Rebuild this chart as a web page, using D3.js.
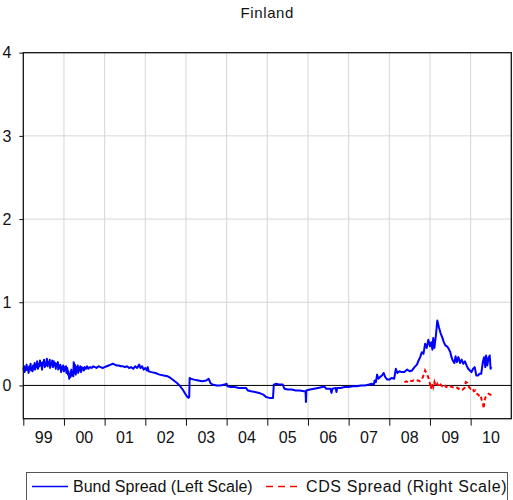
<!DOCTYPE html>
<html>
<head>
<meta charset="utf-8">
<script src="https://cdn.jsdelivr.net/npm/d3@7.9.0/dist/d3.min.js"></script>
<style>
  body { margin: 0; background: #fff; }
  text { font-family: "Liberation Sans", Arial, sans-serif; fill: #111; }
</style>
</head>
<body>
<div id="chart"></div>
<script>
// year labels, placed between year ticks
const yearLabels = ["99", "00", "01", "02", "03", "04", "05", "06", "07", "08", "09", "10"];
const yTicks = [0, 1, 2, 3, 4];

// Bund spread, left scale  [decimal year, value]
const bund = [
  [1999.00, 0.19], [1999.02, 0.23], [1999.03, 0.16], [1999.05, 0.21], [1999.06, 0.18],
  [1999.08, 0.25], [1999.10, 0.19], [1999.11, 0.22], [1999.13, 0.15], [1999.15, 0.23],
  [1999.16, 0.20], [1999.18, 0.26], [1999.19, 0.18], [1999.21, 0.21], [1999.23, 0.17],
  [1999.24, 0.24], [1999.26, 0.20], [1999.28, 0.27], [1999.29, 0.19], [1999.31, 0.25],
  [1999.33, 0.22], [1999.34, 0.29], [1999.36, 0.20], [1999.38, 0.26], [1999.40, 0.23],
  [1999.41, 0.30], [1999.43, 0.24], [1999.45, 0.27], [1999.46, 0.19], [1999.48, 0.28],
  [1999.50, 0.25], [1999.51, 0.31], [1999.53, 0.22], [1999.55, 0.27], [1999.56, 0.24],
  [1999.58, 0.32], [1999.60, 0.23], [1999.61, 0.28], [1999.63, 0.26], [1999.65, 0.31],
  [1999.66, 0.21], [1999.68, 0.27], [1999.70, 0.25], [1999.71, 0.30], [1999.73, 0.22],
  [1999.75, 0.29], [1999.76, 0.24], [1999.78, 0.27], [1999.80, 0.20], [1999.81, 0.26],
  [1999.83, 0.23], [1999.85, 0.28], [1999.86, 0.19], [1999.88, 0.24], [1999.90, 0.21],
  [1999.91, 0.25], [1999.93, 0.16], [1999.95, 0.22], [1999.96, 0.19], [1999.98, 0.24],
  [2000.00, 0.17], [2000.02, 0.22], [2000.03, 0.19], [2000.05, 0.23], [2000.06, 0.15],
  [2000.08, 0.21], [2000.10, 0.13], [2000.11, 0.17], [2000.13, 0.08], [2000.15, 0.14],
  [2000.16, 0.10], [2000.18, 0.19], [2000.19, 0.12], [2000.21, 0.16], [2000.23, 0.11],
  [2000.24, 0.28], [2000.26, 0.15], [2000.27, 0.25], [2000.29, 0.13], [2000.31, 0.22],
  [2000.32, 0.17], [2000.34, 0.24], [2000.35, 0.15], [2000.37, 0.21], [2000.39, 0.18],
  [2000.40, 0.23], [2000.42, 0.16], [2000.44, 0.22], [2000.45, 0.19], [2000.47, 0.21],
  [2000.49, 0.18], [2000.51, 0.22], [2000.54, 0.20], [2000.57, 0.23], [2000.60, 0.20],
  [2000.64, 0.22], [2000.68, 0.21], [2000.72, 0.23], [2000.76, 0.22], [2000.80, 0.21],
  [2000.85, 0.23], [2000.90, 0.22], [2000.95, 0.21],
  [2001.00, 0.22], [2001.05, 0.23], [2001.10, 0.24], [2001.15, 0.25], [2001.20, 0.26],
  [2001.25, 0.25], [2001.30, 0.24], [2001.35, 0.24], [2001.40, 0.23], [2001.45, 0.23],
  [2001.50, 0.22], [2001.55, 0.23], [2001.60, 0.21], [2001.65, 0.22], [2001.70, 0.20],
  [2001.75, 0.23], [2001.80, 0.21], [2001.85, 0.25], [2001.88, 0.21], [2001.92, 0.23],
  [2001.96, 0.19], [2002.00, 0.21], [2002.04, 0.18], [2002.06, 0.22], [2002.08, 0.17],
  [2002.15, 0.16], [2002.25, 0.15], [2002.35, 0.13], [2002.45, 0.12], [2002.55, 0.11],
  [2002.62, 0.09], [2002.70, 0.06], [2002.78, 0.03], [2002.86, -0.01], [2002.92, -0.05],
  [2002.97, -0.09], [2003.02, -0.13], [2003.06, -0.15], [2003.08, -0.14], [2003.09, 0.09],
  [2003.12, 0.08], [2003.20, 0.07], [2003.30, 0.06], [2003.40, 0.05], [2003.50, 0.06],
  [2003.56, 0.08], [2003.60, 0.03], [2003.65, 0.01], [2003.75, 0.00], [2003.85, 0.00],
  [2003.95, 0.01], [2004.00, 0.02], [2004.02, -0.01], [2004.10, -0.02], [2004.20, -0.02],
  [2004.30, -0.03], [2004.40, -0.03], [2004.48, -0.03], [2004.52, -0.06], [2004.60, -0.07],
  [2004.70, -0.08], [2004.80, -0.09], [2004.90, -0.11], [2004.97, -0.14], [2005.05, -0.15],
  [2005.14, -0.15], [2005.16, 0.01], [2005.22, 0.02], [2005.30, 0.01], [2005.38, 0.01],
  [2005.42, -0.04], [2005.50, -0.05], [2005.60, -0.05], [2005.70, -0.06], [2005.80, -0.06],
  [2005.90, -0.07], [2005.94, -0.07], [2005.95, -0.20], [2005.96, -0.06], [2006.05, -0.05],
  [2006.15, -0.04], [2006.25, -0.03], [2006.35, -0.02], [2006.40, -0.01], [2006.45, -0.04],
  [2006.55, -0.04], [2006.58, -0.09], [2006.60, -0.04], [2006.68, -0.03], [2006.70, -0.08],
  [2006.72, -0.03], [2006.80, -0.03], [2006.90, -0.02], [2007.00, -0.02], [2007.10, -0.01],
  [2007.20, -0.01], [2007.30, 0.00], [2007.40, 0.00], [2007.50, 0.01], [2007.56, 0.02],
  [2007.62, 0.01], [2007.64, 0.06], [2007.67, 0.04], [2007.70, 0.13], [2007.73, 0.08],
  [2007.77, 0.10], [2007.82, 0.12], [2007.86, 0.15], [2007.90, 0.10], [2007.95, 0.07],
  [2008.00, 0.07], [2008.06, 0.09], [2008.12, 0.08], [2008.16, 0.20], [2008.20, 0.15],
  [2008.25, 0.17], [2008.30, 0.16], [2008.37, 0.16], [2008.44, 0.19], [2008.50, 0.17],
  [2008.56, 0.18], [2008.62, 0.22], [2008.68, 0.25], [2008.72, 0.30], [2008.76, 0.34],
  [2008.80, 0.40], [2008.84, 0.38], [2008.88, 0.50], [2008.92, 0.45], [2008.96, 0.55],
  [2009.00, 0.47], [2009.03, 0.52], [2009.06, 0.43], [2009.08, 0.57], [2009.11, 0.45],
  [2009.15, 0.62], [2009.18, 0.78], [2009.22, 0.70], [2009.26, 0.63], [2009.30, 0.58],
  [2009.34, 0.52], [2009.38, 0.48], [2009.42, 0.47], [2009.46, 0.44], [2009.50, 0.40],
  [2009.53, 0.34], [2009.56, 0.30], [2009.60, 0.27], [2009.63, 0.35], [2009.66, 0.28],
  [2009.70, 0.34], [2009.74, 0.27], [2009.78, 0.31], [2009.82, 0.26], [2009.86, 0.29],
  [2009.90, 0.24], [2009.94, 0.20], [2009.98, 0.18], [2010.02, 0.16], [2010.06, 0.20],
  [2010.10, 0.22], [2010.14, 0.12], [2010.18, 0.12], [2010.22, 0.14], [2010.26, 0.14],
  [2010.30, 0.28], [2010.33, 0.34], [2010.36, 0.22], [2010.38, 0.36], [2010.41, 0.24],
  [2010.44, 0.33], [2010.47, 0.36], [2010.49, 0.20], [2010.51, 0.22]
];

// CDS spread, right scale  [decimal year, value]
const cds = [
  [2008.37, 0.04], [2008.42, 0.05], [2008.46, 0.04], [2008.50, 0.06], [2008.55, 0.05],
  [2008.60, 0.06], [2008.65, 0.05], [2008.70, 0.06], [2008.75, 0.05], [2008.80, 0.07],
  [2008.84, 0.12], [2008.88, 0.18], [2008.91, 0.15], [2008.94, 0.12], [2008.97, 0.08],
  [2009.00, 0.02], [2009.02, -0.04], [2009.05, 0.03], [2009.08, -0.02], [2009.11, 0.04],
  [2009.14, -0.01], [2009.18, 0.02], [2009.22, -0.02], [2009.26, 0.01], [2009.30, -0.01],
  [2009.35, 0.01], [2009.40, -0.02], [2009.45, 0.00], [2009.50, -0.01], [2009.55, -0.02],
  [2009.60, -0.03], [2009.65, -0.02], [2009.70, -0.04], [2009.75, -0.03], [2009.80, -0.05],
  [2009.85, -0.03], [2009.88, 0.04], [2009.92, 0.03], [2009.96, -0.02], [2010.00, -0.04],
  [2010.04, -0.03], [2010.08, -0.07], [2010.12, -0.06], [2010.16, -0.10], [2010.20, -0.12],
  [2010.24, -0.11], [2010.27, -0.17], [2010.30, -0.20], [2010.32, -0.28], [2010.34, -0.18],
  [2010.37, -0.14], [2010.40, -0.12], [2010.44, -0.10], [2010.48, -0.11], [2010.52, -0.12]
];

const width = 513, height = 500;
const plot = { left: 23.3, right: 511.3, top: 52.7, bottom: 418.7 };

const svg = d3.select("#chart").append("svg")
  .attr("width", width)
  .attr("height", height);

const x = d3.scaleLinear().domain([1999, 2011]).range([plot.left, plot.right]);
const y = d3.scaleLinear().domain([-0.4, 4]).range([plot.bottom, plot.top]);
// right scale: its labels fall outside the picture, same span as left
const yRight = d3.scaleLinear().domain([-0.4, 4]).range([plot.bottom, plot.top]);

// title
svg.append("text")
  .attr("x", (plot.left + plot.right) / 2)
  .attr("y", 18)
  .attr("text-anchor", "middle")
  .attr("font-size", 15)
  .attr("letter-spacing", 0.6)
  .text("Finland");

// grid
const years = d3.range(2000, 2011);
svg.append("g")
  .selectAll("line")
  .data(years)
  .join("line")
    .attr("x1", d => x(d)).attr("x2", d => x(d))
    .attr("y1", plot.top).attr("y2", plot.bottom)
    .attr("stroke", "#d6d6d6");

svg.append("g")
  .selectAll("line")
  .data([1, 2, 3])
  .join("line")
    .attr("x1", plot.left).attr("x2", plot.right)
    .attr("y1", d => y(d)).attr("y2", d => y(d))
    .attr("stroke", "#d6d6d6");

// zero line
svg.append("line")
  .attr("x1", plot.left).attr("x2", plot.right)
  .attr("y1", y(0)).attr("y2", y(0))
  .attr("stroke", "#000");

// lines
const line = (ys) => d3.line().x(d => x(d[0])).y(d => ys(d[1]));

svg.append("path")
  .datum(bund)
  .attr("fill", "none")
  .attr("stroke", "#0000ff")
  .attr("stroke-width", 2)
  .attr("stroke-linejoin", "round")
  .attr("d", line(y));

svg.append("path")
  .datum(cds)
  .attr("fill", "none")
  .attr("stroke", "#ff0000")
  .attr("stroke-width", 2)
  .attr("stroke-dasharray", "4 3")
  .attr("d", line(yRight));

// frame
svg.append("rect")
  .attr("x", plot.left).attr("y", plot.top)
  .attr("width", plot.right - plot.left)
  .attr("height", plot.bottom - plot.top)
  .attr("fill", "none")
  .attr("stroke", "#111")
  .attr("stroke-width", 1.3);

// left axis
const yAxis = svg.append("g")
  .attr("transform", `translate(${plot.left},0)`)
  .call(d3.axisLeft(y).tickValues(yTicks).tickSize(4).tickPadding(8).tickFormat(d3.format("d")));
yAxis.select(".domain").remove();
yAxis.selectAll(".tick line").attr("stroke", "#111");
yAxis.selectAll(".tick text")
  .attr("font-size", 16)
  .attr("font-family", "Liberation Sans, Arial, sans-serif")
  .attr("fill", "#111");

// bottom axis: ticks at year starts, labels mid-year
const xAxis = svg.append("g")
  .attr("transform", `translate(0,${plot.bottom})`)
  .call(d3.axisBottom(x).tickValues(d3.range(1999, 2011)).tickSize(7).tickFormat(""));
xAxis.select(".domain").remove();
xAxis.selectAll(".tick line").attr("stroke", "#111");

svg.append("g")
  .selectAll("text")
  .data(yearLabels)
  .join("text")
    .attr("x", (d, i) => x(1999.5 + i))
    .attr("y", plot.bottom + 24)
    .attr("text-anchor", "middle")
    .attr("font-size", 16)
    .text(d => d);

// legend
const legend = svg.append("g");
legend.append("rect")
  .attr("x", 26.5).attr("y", 472.5)
  .attr("width", 481).attr("height", 40)
  .attr("fill", "#fff")
  .attr("stroke", "#555");

legend.append("line")
  .attr("x1", 32).attr("x2", 68)
  .attr("y1", 486.5).attr("y2", 486.5)
  .attr("stroke", "#0000ff").attr("stroke-width", 1.5);
legend.append("text")
  .attr("x", 73).attr("y", 492)
  .attr("font-size", 16)
  .text("Bund Spread (Left Scale)");

legend.append("line")
  .attr("x1", 266).attr("x2", 301)
  .attr("y1", 486.5).attr("y2", 486.5)
  .attr("stroke", "#ff0000").attr("stroke-width", 1.5)
  .attr("stroke-dasharray", "7 5");
legend.append("text")
  .attr("x", 306).attr("y", 492)
  .attr("font-size", 16)
  .attr("letter-spacing", 0.6)
  .text("CDS Spread (Right Scale)");
</script>
</body>
</html>
